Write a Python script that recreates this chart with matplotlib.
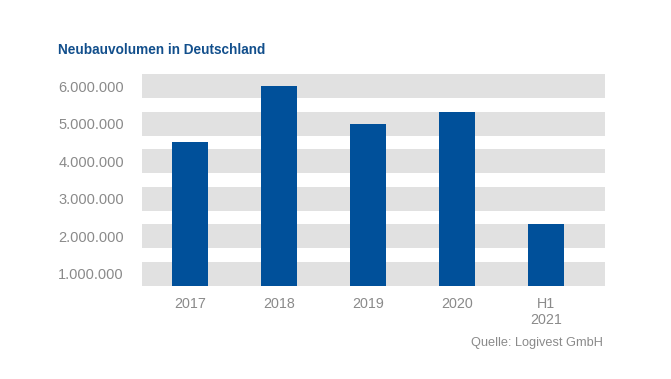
import matplotlib
matplotlib.use("Agg")
import matplotlib.pyplot as plt

# ── DATA ──────────────────────────────────────────────────────────────────────
categories = ["2017", "2018", "2019", "2020", "H1\n2021"]
volumen = [4_500_000, 6_000_000, 5_000_000, 5_320_000, 2_330_000]
y_ticks = [1_000_000, 2_000_000, 3_000_000, 4_000_000, 5_000_000, 6_000_000]
y_labels = ["1.000.000", "2.000.000", "3.000.000", "4.000.000", "5.000.000", "6.000.000"]

# ── COLOURS ───────────────────────────────────────────────────────────────────
C_BAR = "#00509a"
C_BAND = "#e1e1e1"
C_TITLE = "#124f8c"
C_TEXT = "#8a8a8a"

plt.rcParams["font.family"] = ["Liberation Sans", "DejaVu Sans"]

fig = plt.figure(figsize=(6.71, 3.79), dpi=100)
ax = fig.add_axes([142 / 671, 1 - 286 / 379, (605 - 142) / 671, (286 - 74) / 379])

half = 320_000  # half height of each grey band
for v in y_ticks:
    ax.axhspan(v - half, v + half, color=C_BAND, linewidth=0, zorder=0)

x = range(len(categories))
ax.bar(x, volumen, width=0.405, color=C_BAR, zorder=2)

ax.set_xlim(-0.54, 4.66)
ax.set_ylim(1_000_000 - half, 6_000_000 + half)

ax.set_yticks(y_ticks)
ax.set_yticklabels(y_labels, fontsize=10.5, color=C_TEXT)
ax.set_xticks(list(x))
ax.set_xticklabels(categories, fontsize=10.3, color=C_TEXT, linespacing=1.2)
ax.tick_params(axis="y", length=0, pad=13)
ax.tick_params(axis="x", length=0, pad=8)
for s in ax.spines.values():
    s.set_visible(False)

fig.text(58 / 671, 1 - 50 / 379, "Neubauvolumen in Deutschland", fontsize=9.8,
         fontweight="bold", color=C_TITLE, va="center", ha="left")
fig.text(603 / 671, 1 - 343 / 379, "Quelle: Logivest GmbH", fontsize=9.2,
         color=C_TEXT, va="center", ha="right")

fig.savefig("out.png", dpi=100, facecolor="white")
